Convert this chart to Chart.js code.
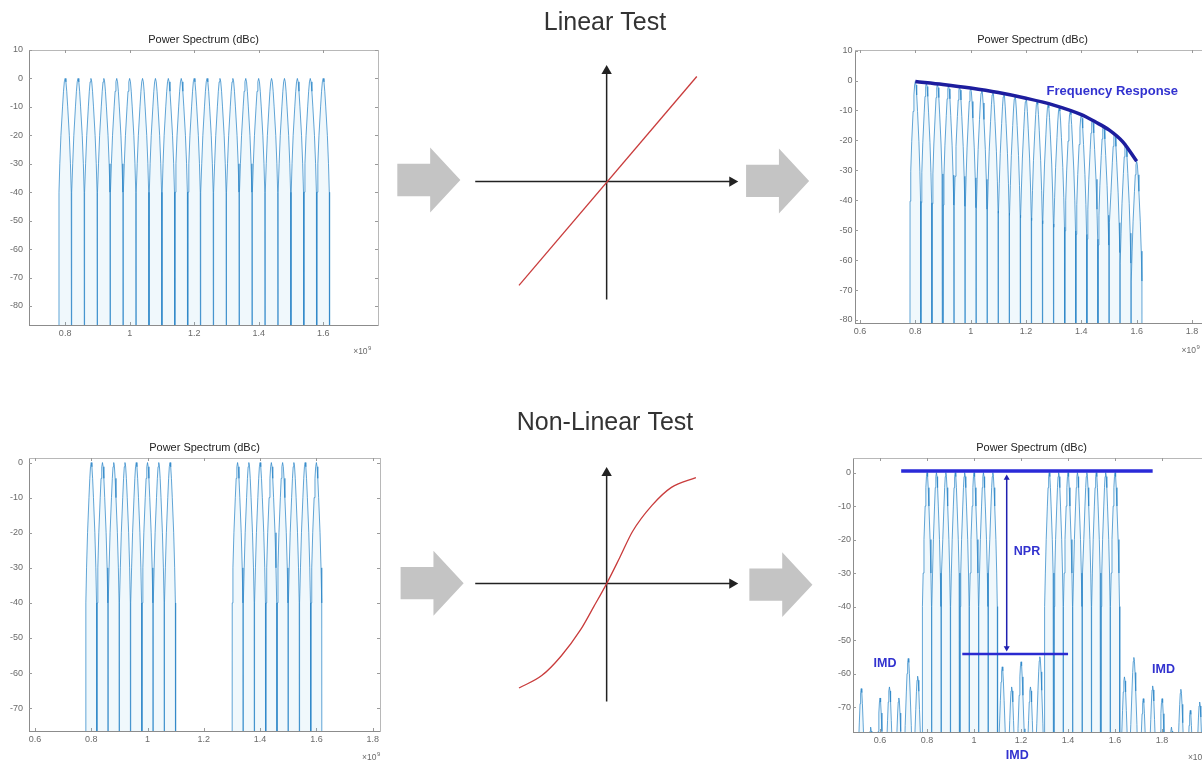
<!DOCTYPE html>
<html>
<head>
<meta charset="utf-8">
<title>Linear / Non-Linear Test</title>
<script src="https://cdn.jsdelivr.net/npm/chart.js@4.4.1/dist/chart.umd.min.js"></script>
<style>
  html, body { margin: 0; padding: 0; background: #fff; overflow: hidden; }
  body { width: 1202px; height: 768px; position: relative; }
  canvas { position: absolute; }
</style>
</head>
<body>
<canvas id="specLinIn" width="400" height="340" style="left:0;top:28px"></canvas>
<canvas id="specLinOut" width="400" height="340" style="left:820px;top:28px"></canvas>
<canvas id="specNlIn" width="400" height="333" style="left:0;top:435px"></canvas>
<canvas id="specNlOut" width="400" height="333" style="left:820px;top:435px"></canvas>
<canvas id="curveLin" width="450" height="360" style="left:380px;top:0"></canvas>
<canvas id="curveNl" width="450" height="368" style="left:380px;top:400px"></canvas>
<script>
// ---- data (frequency in x10^9, level in dBc) ----
const tonesFull = [0.80, 0.84, 0.88, 0.92, 0.96, 1.00, 1.04, 1.08, 1.12, 1.16, 1.20,
                   1.24, 1.28, 1.32, 1.36, 1.40, 1.44, 1.48, 1.52, 1.56, 1.60];
const levelsFlat = [0, 0, 0, 0, 0, 0, 0, 0, 0, 0, 0, 0, 0, 0, 0, 0, 0, 0, 0, 0, 0];
const levelsRolled = [-0.3, -0.8, -1.2, -1.6, -2.0, -2.5, -3.0, -3.6, -4.3, -5.0, -5.9,
                      -6.8, -7.9, -9.0, -10.2, -11.4, -13.0, -15.0, -17.5, -21.0, -27.0];
const respFreqs = [0.80, 0.90, 1.00, 1.10, 1.20, 1.30, 1.40, 1.45, 1.50, 1.55, 1.60];
const respLevels = [-0.3, -1.3, -2.5, -4.0, -5.9, -8.2, -11.4, -13.8, -16.5, -20.5, -27.0];

const tonesNotched = [0.80, 0.84, 0.88, 0.92, 0.96, 1.00, 1.04, 1.08,
                      1.32, 1.36, 1.40, 1.44, 1.48, 1.52, 1.56, 1.60];
const levelsNotched = [0, 0, 0, 0, 0, 0, 0, 0, 0, 0, 0, 0, 0, 0, 0, 0];
const imdFreqs = [0.52, 0.56, 0.60, 0.64, 0.68, 0.72, 0.76, 1.12, 1.16, 1.20, 1.24, 1.28,
                  1.64, 1.68, 1.72, 1.76, 1.80, 1.84, 1.88, 1.92, 1.96];
const imdLevels = [-64.5, -76, -67.3, -64, -67.3, -55.5, -60.8, -58, -64, -56.5, -64, -55,
                   -61, -55.2, -67.5, -63.7, -67.5, -76, -64.7, -71, -68.5];

// shape of one tone's lobe: offset from the tone and level below its peak
const lobeOffsets = [-0.0200, -0.0190, -0.0165, -0.0130, -0.0080, -0.0050, -0.0025, 0,
                     0.0025, 0.0050, 0.0080, 0.0130, 0.0165, 0.0190, 0.0200];
const lobeLevels = [-200, -40, -30, -20, -10, -4.5, -1.2, 0, -1.2, -4.5, -10, -20, -30, -40, -200];

// NPR markers on the non-linear output
const nprTopX = [0.69, 1.76], nprTopY = [0.5, 0.5];
const nprFloorX = [0.95, 1.40], nprFloorY = [-54.2, -54.2];
const nprArrowX = [1.139, 1.139], nprArrowY = [-1.6, -52.4];

// tick labels
const xTicksShort = [0.8, 1, 1.2, 1.4, 1.6];
const xTicksLong = [0.6, 0.8, 1, 1.2, 1.4, 1.6, 1.8];
const yTicksTop = [10, 0, -10, -20, -30, -40, -50, -60, -70, -80];
const yTicksBottom = [0, -10, -20, -30, -40, -50, -60, -70];

// transfer curves (normalised in/out)
const linearX = [-0.667, 0.686], linearY = [-0.783, 0.793];
const sCurveX = [-0.667, -0.494, -0.346, -0.198, -0.099, 0, 0.099, 0.197, 0.345, 0.493, 0.679];
const sCurveY = [-0.788, -0.694, -0.546, -0.348, -0.176, 0, 0.195, 0.393, 0.590, 0.726, 0.800];
const axisHX = [-1, 0.956], axisVY = [-0.89, 0.835];

// block arrow outline, relative to its left end
const arrowX = [0, 0.25, 0.25, 0.48, 0.25, 0.25, 0, 0];
const arrowY = [0.122, 0.122, 0.245, 0, -0.245, -0.122, -0.122, 0.122];

const FONT = "'Liberation Sans', Arial, Helvetica, sans-serif";
Chart.defaults.font.family = FONT;

function toPoints(xs, ys) { return xs.map((x, i) => ({x: x, y: ys[i]})); }

function spectrum(freqs, levels) {
    const pts = [];
    const order = freqs.map((f, i) => i).sort((a, b) => freqs[a] - freqs[b]);
    order.forEach(i => {
        lobeOffsets.forEach((d, j) => pts.push({x: freqs[i] + d, y: levels[i] + lobeLevels[j]}));
    });
    return pts;
}

// matlab-style inner tick marks, text notes, and the x10^9 exponent
const notes = {
    id: 'notes',
    beforeDatasetsDraw(chart) {
        const ctx = chart.ctx, x = chart.scales.x, y = chart.scales.y, ca = chart.chartArea;
        ctx.save();
        ctx.strokeStyle = '#9a9a9a';
        ctx.lineWidth = 1;
        ctx.beginPath();
        x.ticks.forEach(t => {
            const px = Math.round(x.getPixelForValue(t.value)) + 0.5;
            ctx.moveTo(px, ca.bottom); ctx.lineTo(px, ca.bottom - 3);
            ctx.moveTo(px, ca.top); ctx.lineTo(px, ca.top + 3);
        });
        y.ticks.forEach(t => {
            const py = Math.round(y.getPixelForValue(t.value)) + 0.5;
            ctx.moveTo(ca.left, py); ctx.lineTo(ca.left + 3, py);
            ctx.moveTo(ca.right, py); ctx.lineTo(ca.right - 3, py);
        });
        ctx.stroke();
        ctx.restore();
    },
    afterDatasetsDraw(chart, args, opts) {
        const ctx = chart.ctx, x = chart.scales.x, y = chart.scales.y;
        ctx.save();
        (opts.items || []).forEach(it => {
            ctx.font = 'bold ' + it.size + 'px ' + FONT;
            ctx.fillStyle = '#3232cf';
            ctx.textAlign = 'center';
            ctx.textBaseline = 'middle';
            ctx.fillText(it.text, x.getPixelForValue(it.x), y.getPixelForValue(it.y));
        });
        if (opts.expAt) {
            const px = x.getPixelForValue(opts.expAt), py = chart.chartArea.bottom + opts.expDy;
            ctx.fillStyle = '#6a6a6a';
            ctx.textAlign = 'left';
            ctx.textBaseline = 'alphabetic';
            ctx.font = '8.5px ' + FONT;
            ctx.fillText('\u00d710', px, py);
            const w = ctx.measureText('\u00d710').width;
            ctx.font = '6px ' + FONT;
            ctx.fillText('9', px + w + 0.5, py - 4);
        }
        ctx.restore();
    }
};

function spectrumChart(id, cfg) {
    const cv = document.getElementById(id);
    const W = cv.width, H = cv.height, a = cfg.area;
    const tickFont = {size: 9, family: FONT};
    const noGrid = {display: false, drawTicks: false};
    const datasets = (cfg.extra || []).concat([{
        data: cfg.points,
        showLine: true,
        borderColor: 'rgba(45,135,200,0.75)',
        borderWidth: 1,
        backgroundColor: 'rgba(110,185,230,0.10)',
        fill: 'start',
        pointRadius: 0,
        tension: 0
    }]);
    new Chart(cv, {
        type: 'scatter',
        data: {datasets: datasets},
        plugins: [notes],
        options: {
            responsive: false,
            animation: false,
            events: [],
            layout: {padding: {left: 0, top: 0, right: W - a.right, bottom: 0}},
            scales: {
                x: {
                    type: 'linear', position: 'bottom', min: cfg.xRange[0], max: cfg.xRange[1],
                    afterBuildTicks: ax => { ax.ticks = cfg.xTicks.map(v => ({value: v})); },
                    afterFit: ax => { ax.height = H - a.bottom; ax.paddingLeft = 0; ax.paddingRight = 0; },
                    ticks: {font: tickFont, color: '#6a6a6a', padding: cfg.xPad, maxRotation: 0, autoSkip: false,
                            callback: v => String(v)},
                    grid: noGrid,
                    border: {color: '#8c8c8c'}
                },
                y: {
                    type: 'linear', position: 'left', min: cfg.yRange[0], max: cfg.yRange[1],
                    afterBuildTicks: ax => { ax.ticks = cfg.yTicks.map(v => ({value: v})); },
                    afterFit: ax => { ax.width = a.left; ax.paddingTop = 0; ax.paddingBottom = 0; },
                    ticks: {font: tickFont, color: '#6a6a6a', padding: cfg.yPad, autoSkip: false,
                            callback: v => String(v)},
                    grid: noGrid,
                    border: {color: '#8c8c8c'}
                },
                xTop: {
                    type: 'linear', position: 'top', min: cfg.xRange[0], max: cfg.xRange[1],
                    afterFit: ax => { ax.height = 0; },
                    ticks: {display: false}, grid: noGrid, border: {color: '#b8b8b8'}
                },
                yRight: {
                    type: 'linear', position: 'right', min: cfg.yRange[0], max: cfg.yRange[1],
                    afterFit: ax => { ax.width = 0; },
                    ticks: {display: false}, grid: noGrid, border: {color: '#b8b8b8'}
                }
            },
            plugins: {
                legend: {display: false},
                tooltip: {enabled: false},
                title: {
                    display: true, text: 'Power Spectrum (dBc)', fullSize: false,
                    color: '#222', font: {size: 11, weight: 'normal', family: FONT, lineHeight: 1.2},
                    padding: {top: cfg.titleCenter - 6.6, bottom: a.top - 13.2 - (cfg.titleCenter - 6.6)}
                },
                notes: {items: cfg.notes || [], expAt: cfg.expAt, expDy: cfg.expDy}
            }
        }
    });
}

function arrowAt(x0, y0) { return arrowX.map((dx, i) => ({x: x0 + dx, y: y0 + arrowY[i]})); }

function transferChart(id, cfg) {
    const cv = document.getElementById(id);
    const grey = {showLine: true, fill: 'shape', backgroundColor: '#c4c4c4', borderWidth: 0, pointRadius: 0};
    const axisLine = {showLine: true, borderColor: '#222', borderWidth: 1.5, pointStyle: 'triangle',
                      pointRadius: [0, 6], pointBackgroundColor: '#222', pointBorderWidth: 0};
    new Chart(cv, {
        type: 'scatter',
        data: {datasets: [
            {data: toPoints(cfg.curveX, cfg.curveY), showLine: true, borderColor: '#c93c3c', borderWidth: 1.3,
             pointRadius: 0, tension: cfg.smooth ? 0.4 : 0,
             cubicInterpolationMode: cfg.smooth ? 'monotone' : 'default'},
            Object.assign({data: toPoints(axisHX, [0, 0]), pointRotation: 90}, axisLine),
            Object.assign({data: toPoints([0, 0], axisVY), pointRotation: 0}, axisLine),
            Object.assign({data: arrowAt(cfg.leftArrow[0], cfg.leftArrow[1])}, grey),
            Object.assign({data: arrowAt(cfg.rightArrow[0], cfg.rightArrow[1])}, grey)
        ]},
        options: {
            responsive: false,
            animation: false,
            events: [],
            layout: {padding: 0},
            scales: {
                x: {type: 'linear', display: false, min: -1.679, max: 1.654},
                y: {type: 'linear', display: false, min: cfg.yRange[0], max: cfg.yRange[1]}
            },
            plugins: {
                legend: {display: false},
                tooltip: {enabled: false},
                title: {display: true, text: cfg.title, color: '#333',
                        font: {size: 25, weight: 'normal', family: FONT, lineHeight: 1.2},
                        padding: {top: cfg.titlePad, bottom: 0}}
            }
        }
    });
}

// linear test: input and output spectra
spectrumChart('specLinIn', {
    area: {left: 29, top: 22, right: 378, bottom: 297},
    titleCenter: 12, xPad: 3.6, yPad: 6,
    xRange: [0.688, 1.77], yRange: [-86.7, 10],
    xTicks: xTicksShort, yTicks: yTicksTop,
    points: spectrum(tonesFull, levelsFlat),
    expAt: 1.693, expDy: 29
});
spectrumChart('specLinOut', {
    area: {left: 35, top: 22, right: 390, bottom: 295},
    titleCenter: 12, xPad: 3.3, yPad: 2.5,
    xRange: [0.582, 1.865], yRange: [-81, 10.2],
    xTicks: xTicksLong, yTicks: yTicksTop,
    points: spectrum(tonesFull, levelsRolled),
    extra: [{data: toPoints(respFreqs, respLevels), showLine: true, borderColor: '#1d1d9e',
             borderWidth: 3.5, pointRadius: 0, tension: 0.35, cubicInterpolationMode: 'monotone'}],
    notes: [{text: 'Frequency Response', x: 1.512, y: -3.8, size: 13}],
    expAt: 1.762, expDy: 30
});

// non-linear test: notched input and output with IMD
spectrumChart('specNlIn', {
    area: {left: 29, top: 23, right: 380, bottom: 296},
    titleCenter: 13, xPad: 3.6, yPad: 6,
    xRange: [0.579, 1.826], yRange: [-76.5, 1.3],
    xTicks: xTicksLong, yTicks: yTicksBottom,
    points: spectrum(tonesNotched, levelsNotched),
    expAt: 1.762, expDy: 29
});
const arrowEnds = {data: toPoints(nprArrowX, nprArrowY), showLine: true, borderColor: '#2020b0', borderWidth: 1.5,
                   pointStyle: 'triangle', pointRadius: 3.5, pointRotation: [0, 180],
                   pointBackgroundColor: '#2020b0', pointBorderWidth: 0};
spectrumChart('specNlOut', {
    area: {left: 33, top: 23, right: 390, bottom: 297},
    titleCenter: 13, xPad: 3, yPad: 2,
    xRange: [0.485, 2.004], yRange: [-77.46, 4.36],
    xTicks: xTicksLong, yTicks: yTicksBottom,
    points: spectrum(tonesNotched.concat(imdFreqs), levelsNotched.concat(imdLevels)),
    extra: [
        {data: toPoints(nprTopX, nprTopY), showLine: true, borderColor: '#2a2ad8', borderWidth: 3.5, pointRadius: 0},
        {data: toPoints(nprFloorX, nprFloorY), showLine: true, borderColor: '#2a2ad0', borderWidth: 2.5, pointRadius: 0},
        arrowEnds
    ],
    notes: [
        {text: 'NPR', x: 1.2255, y: -23.7, size: 12.5},
        {text: 'IMD', x: 0.621, y: -56.9, size: 12.5},
        {text: 'IMD', x: 1.806, y: -58.8, size: 12.5},
        {text: 'IMD', x: 1.184, y: -84.6, size: 12.5}
    ],
    expAt: 1.91, expDy: 28
});

// transfer functions
transferChart('curveLin', {
    title: 'Linear Test', titlePad: 7.7, yRange: [-1.301, 1.086],
    curveX: linearX, curveY: linearY, smooth: false,
    leftArrow: [-1.593, 0.012], rightArrow: [1.061, 0.005]
});
transferChart('curveNl', {
    title: 'Non-Linear Test', titlePad: 8.3, yRange: [-1.346, 1.096],
    curveX: sCurveX, curveY: sCurveY, smooth: true,
    leftArrow: [-1.568, 0.003], rightArrow: [1.086, -0.008]
});
</script>
</body>
</html>
